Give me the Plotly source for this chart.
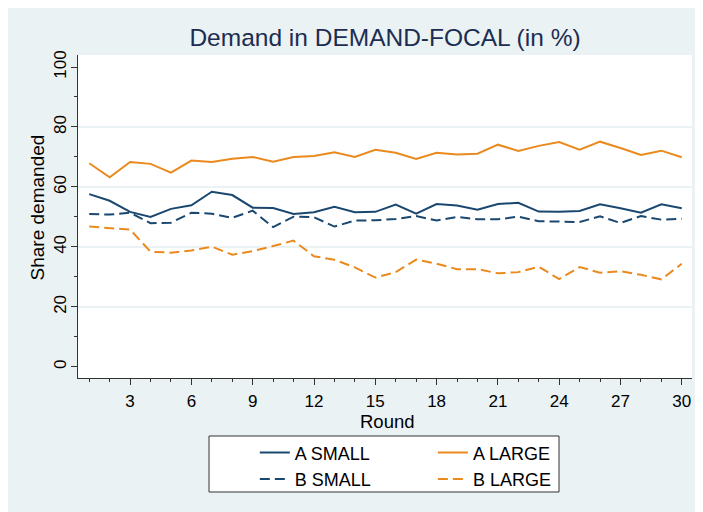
import plotly.graph_objects as go

rounds = list(range(1, 31))
a_small = [57.6, 55.4, 51.7, 50.0, 52.7, 53.9, 58.4, 57.3, 53.1, 53.0, 51.0, 51.6, 53.4, 51.6, 51.7,
           54.1, 51.1, 54.3, 53.8, 52.4, 54.3, 54.7, 51.8, 51.7, 52.0, 54.2, 52.9, 51.4, 54.2, 52.9]
a_large = [67.9, 63.2, 68.3, 67.7, 64.8, 68.8, 68.3, 69.4, 70.0, 68.4, 70.0, 70.3, 71.6, 70.0, 72.4,
           71.4, 69.3, 71.4, 70.8, 71.1, 74.1, 72.0, 73.7, 75.0, 72.4, 75.1, 73.0, 70.7, 72.1, 69.9]
b_small = [51.0, 50.8, 51.4, 47.9, 48.1, 51.4, 51.1, 49.7, 52.1, 46.6, 50.1, 49.9, 46.8, 48.8, 48.9,
           49.3, 50.3, 48.8, 50.0, 49.2, 49.2, 50.1, 48.6, 48.4, 48.3, 50.2, 48.0, 50.3, 49.1, 49.4]
b_large = [46.8, 46.2, 45.8, 38.4, 38.1, 38.8, 40.1, 37.4, 38.6, 40.3, 42.1, 36.9, 35.7, 33.2, 29.8,
           31.6, 35.8, 34.4, 32.6, 32.6, 31.2, 31.6, 33.4, 29.3, 33.3, 31.4, 31.9, 30.7, 29.2, 34.4]

x_ticks = list(range(3, 31, 3))
y_ticks = [0, 20, 40, 60, 80, 100]
grid_vals = [20, 40, 60, 80]

BLUE = "#1a476f"
ORANGE = "#ea8a1e"
BG = "#eaf2f3"
FONT = "Liberation Sans, Arial, sans-serif"
DASH = "10px,5px"

fig = go.Figure()
fig.add_trace(go.Scatter(x=rounds, y=a_small, mode="lines", name="A SMALL",
                         line=dict(color=BLUE, width=2), legend="legend"))
fig.add_trace(go.Scatter(x=rounds, y=b_small, mode="lines", name="B SMALL",
                         line=dict(color=BLUE, width=2, dash=DASH), legend="legend"))
fig.add_trace(go.Scatter(x=rounds, y=a_large, mode="lines", name="A LARGE",
                         line=dict(color=ORANGE, width=2), legend="legend2"))
fig.add_trace(go.Scatter(x=rounds, y=b_large, mode="lines", name="B LARGE",
                         line=dict(color=ORANGE, width=2, dash=DASH), legend="legend2"))
# helper (empty) trace so the grid-only overlay axis is drawn
fig.add_trace(go.Scatter(x=[None], y=[None], yaxis="y2", showlegend=False, hoverinfo="skip"))

yr = [-3.7, 104.0]
fig.update_layout(
    width=703, height=512,
    margin=dict(l=70, r=19, t=47, b=142, autoexpand=False),
    paper_bgcolor=BG, plot_bgcolor="white",
    font=dict(family=FONT, size=17, color="#000000"),
    title=dict(text="Demand in DEMAND-FOCAL (in %)", x=0.5, xref="paper", xanchor="center",
               y=1 - 29 / 512, yref="container", yanchor="middle",
               font=dict(size=24.5, color="#1c2d52", family=FONT)),
    xaxis=dict(range=[0.45, 30.5], tickmode="array", tickvals=x_ticks, ticks="outside",
               ticklen=6, tickwidth=1, tickcolor="#333333", showgrid=False, zeroline=False,
               showline=True, linecolor="#333333", linewidth=1.2, ticklabelstandoff=1,
               minor=dict(dtick=1, tick0=0, ticks="outside", ticklen=3, tickcolor="#333333",
                          showgrid=False)),
    yaxis=dict(range=yr, tickmode="array", tickvals=y_ticks, ticks="outside", ticklen=6,
               tickwidth=1, tickcolor="#333333", showgrid=False, zeroline=False, tickangle=-90,
               showline=True, linecolor="#333333", linewidth=1.2, ticklabelstandoff=-2,
               minor=dict(dtick=10, tick0=0, ticks="outside", ticklen=3, tickcolor="#333333",
                          showgrid=False)),
    yaxis2=dict(range=yr, overlaying="y", anchor="x", tickmode="array", tickvals=grid_vals,
                showgrid=True, gridcolor=BG, gridwidth=1.5, showticklabels=False,
                ticks="", zeroline=False, showline=False),
    legend=dict(x=0.288, y=-0.1745, xanchor="left", yanchor="top", orientation="v",
                bgcolor="rgba(0,0,0,0)", font=dict(size=18, family=FONT), tracegroupgap=0),
    legend2=dict(x=0.578, y=-0.1745, xanchor="left", yanchor="top", orientation="v",
                 bgcolor="rgba(0,0,0,0)", font=dict(size=18, family=FONT), tracegroupgap=0),
    annotations=[
        dict(text="Share demanded", textangle=-90, xref="paper", yref="paper",
             x=-0.0668, y=0.528, xanchor="center", yanchor="middle", showarrow=False,
             font=dict(size=19, family=FONT, color="#000000")),
        dict(text="Round", xref="paper", yref="paper",
             x=0.504, y=-0.134, xanchor="center", yanchor="middle", showarrow=False,
             font=dict(size=18.5, family=FONT, color="#000000")),
    ],
    shapes=[
        dict(type="rect", xref="paper", yref="paper", x0=0.2134, x1=0.7834, y0=-0.3529, y1=-0.1796,
             fillcolor="white", line=dict(color="#333333", width=1), layer="above"),
    ],
    showlegend=True,
)

fig.write_html("out.html")
